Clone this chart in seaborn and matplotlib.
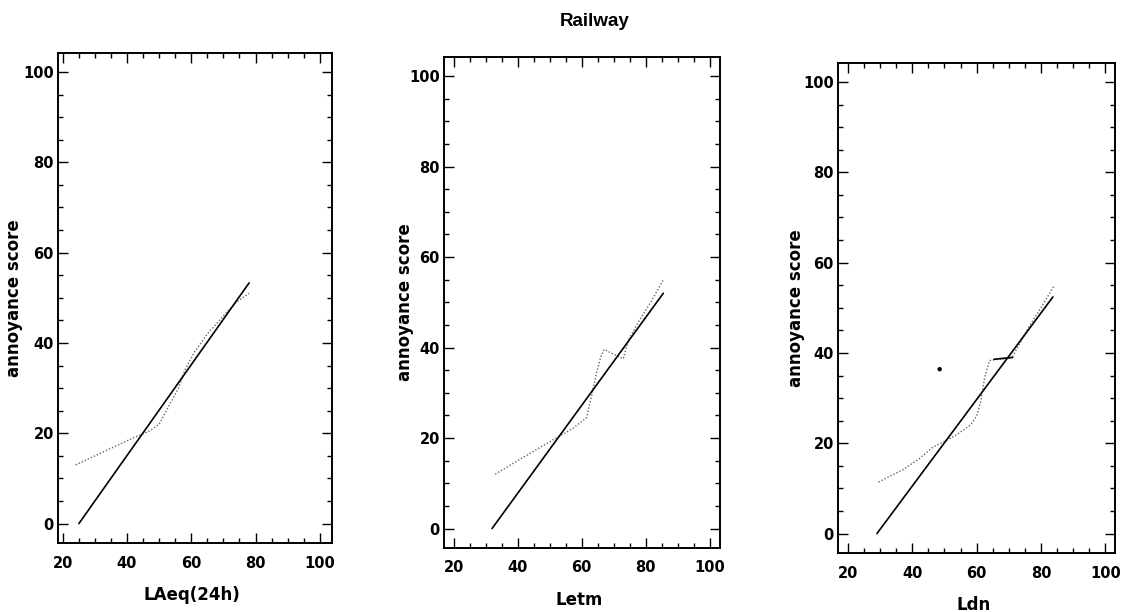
import matplotlib
matplotlib.use("Agg")
import matplotlib.pyplot as plt
import seaborn as sns
from matplotlib.ticker import MultipleLocator

# ---- data ----
titles = "Railway"
x_labels = ["LAeq(24h)", "Letm", "Ldn"]
y_label = "annoyance score"

laeq_fit_x = [25.0, 78.0]
laeq_fit_y = [0.0, 53.3]
laeq_obs_x = [24, 30, 36, 42, 47, 50, 53, 56, 58, 61, 65, 70, 74, 78]
laeq_obs_y = [13, 15, 17, 19, 20.5, 22, 26, 30, 34, 38, 42, 46, 49, 51]

letm_fit_x = [32.0, 85.5]
letm_fit_y = [0.0, 52.0]
letm_obs_x = [33, 40, 46, 52, 57, 61.5, 63, 64.5, 66, 67, 70, 73, 74.5, 78, 82, 85.5]
letm_obs_y = [12, 15, 17.5, 20, 22, 24.5, 29, 34, 38, 39.6, 38.5, 37.5, 41.5, 46, 50.5, 55]

ldn_fit_x = [29.0, 83.7]
ldn_fit_y = [0.0, 52.4]
ldn_obs_x = [29.5, 33, 37, 42, 46.5, 50.5, 54, 58, 60, 61.3, 62.5, 64, 65.5, 68, 71, 72.7, 76, 80, 84]
ldn_obs_y = [11.4, 12.7, 14.1, 16.5, 19.2, 20.6, 22, 24, 26, 29.4, 34.6, 38.3, 38.5, 38.7, 39, 41.2, 45.5, 50, 54.8]
ldn_seg_x = [65.4, 71.2]
ldn_seg_y = [38.6, 39.0]
ldn_pt_x = [48.5]
ldn_pt_y = [36.4]

x_ticks = [20, 40, 60, 80, 100]
y_ticks = [0, 20, 40, 60, 80, 100]

sns.set_style("ticks")
plt.rcParams["font.family"] = ["DejaVu Sans"]
plt.rcParams["text.color"] = "black"
plt.rcParams["axes.labelcolor"] = "black"
plt.rcParams["xtick.color"] = "black"
plt.rcParams["ytick.color"] = "black"

fig = plt.figure(figsize=(11.29, 6.12), dpi=100)

positions = [
    [58 / 1129, (612 - 543) / 612, 274 / 1129, 490 / 612],
    [444 / 1129, (612 - 548) / 612, 276 / 1129, 491 / 612],
    [838 / 1129, (612 - 553) / 612, 277 / 1129, 490 / 612],
]
xlims = [(18.5, 103.8), (17.0, 103.2), (16.9, 103.0)]
ylabel_x = [-0.128, -0.11, -0.12]

panels = [
    (laeq_fit_x, laeq_fit_y, laeq_obs_x, laeq_obs_y),
    (letm_fit_x, letm_fit_y, letm_obs_x, letm_obs_y),
    (ldn_fit_x, ldn_fit_y, ldn_obs_x, ldn_obs_y),
]

for i, (fx, fy, ox, oy) in enumerate(panels):
    ax = fig.add_axes(positions[i])
    sns.lineplot(x=ox, y=oy, ax=ax, sort=False, estimator=None,
                 color="#666666", linewidth=1.0, linestyle=(0, (1, 1.4)))
    sns.lineplot(x=fx, y=fy, ax=ax, sort=False, estimator=None,
                 color="black", linewidth=1.2)
    if i == 2:
        sns.lineplot(x=ldn_seg_x, y=ldn_seg_y, ax=ax, sort=False, estimator=None,
                     color="black", linewidth=1.2)
        sns.scatterplot(x=ldn_pt_x, y=ldn_pt_y, ax=ax, color="black", s=10,
                        edgecolor="none")
    ax.set_xlim(*xlims[i])
    ax.set_ylim(-4.3, 104.2)
    ax.set_xticks(x_ticks)
    ax.set_yticks(y_ticks)
    ax.xaxis.set_minor_locator(MultipleLocator(5))
    ax.yaxis.set_minor_locator(MultipleLocator(5))
    ax.tick_params(which="both", direction="in", top=True, right=True, color="black")
    ax.tick_params(which="major", length=7, width=1.0)
    ax.tick_params(which="minor", length=3.5, width=1.0)
    ax.tick_params(axis="x", which="major", pad=9, labelsize=10.5)
    ax.tick_params(axis="y", which="major", pad=3, labelsize=10.5)
    for lab in ax.get_xticklabels() + ax.get_yticklabels():
        lab.set_fontweight("bold")
    for sp in ax.spines.values():
        sp.set_linewidth(1.4)
        sp.set_color("black")
    ax.set_xlabel(x_labels[i], fontsize=12, fontweight="bold", va="top")
    ax.xaxis.set_label_coords(0.49, -0.088)
    ax.set_ylabel(y_label, fontsize=12, fontweight="bold")
    ax.yaxis.set_label_coords(ylabel_x[i], 0.5)

fig.text(0.527, 0.965, titles, ha="center", va="center", fontsize=13.5,
         fontweight="bold", family=["Liberation Sans", "DejaVu Sans"])

fig.savefig("out.png", dpi=100, facecolor="white")
